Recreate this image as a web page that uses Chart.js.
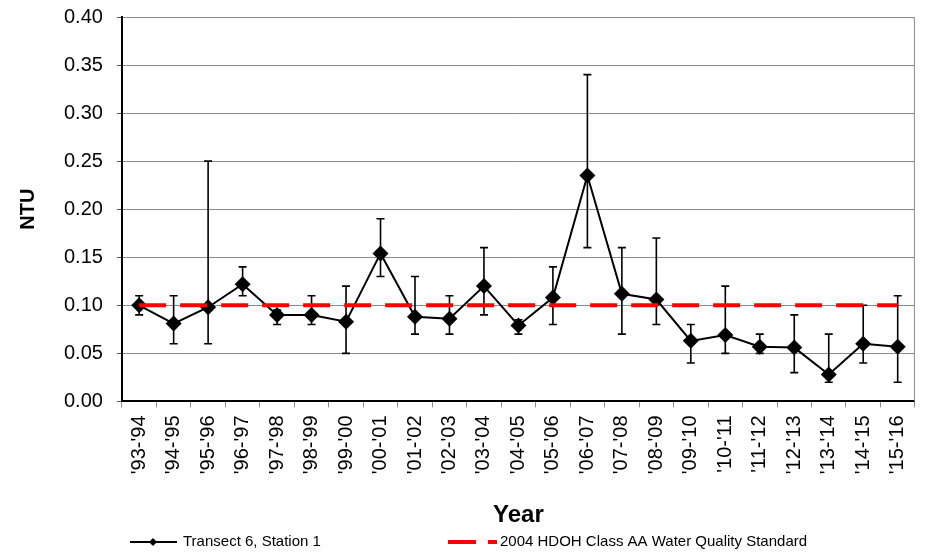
<!DOCTYPE html>
<html lang="en">
<head>
  <meta charset="UTF-8" />
  <title>NTU - Transect 6, Station 1</title>
  <script src="https://cdn.jsdelivr.net/npm/chart.js"></script>
  <style>
    body { margin: 0; background: #fff; }
    canvas { display: block; }
  </style>
</head>
<body>
  <canvas id="ntuChart" width="930" height="555"></canvas>

  <script>
    // values
    const years = ["'93-'94", "'94-'95", "'95-'96", "'96-'97", "'97-'98", "'98-'99", "'99-'00", "'00-'01",
      "'01-'02", "'02-'03", "'03-'04", "'04-'05", "'05-'06", "'06-'07", "'07-'08", "'08-'09",
      "'09-'10", "'10-'11", "'11-'12", "'12-'13", "'13-'14", "'14-'15", "'15-'16"];
    const ntu = [0.100, 0.081, 0.098, 0.122, 0.090, 0.090, 0.083, 0.154, 0.088, 0.086, 0.120, 0.079,
      0.108, 0.235, 0.112, 0.106, 0.063, 0.069, 0.057, 0.056, 0.028, 0.060, 0.057];
    const ntuHigh = [0.11, 0.11, 0.25, 0.14, 0.095, 0.11, 0.12, 0.19, 0.13, 0.11, 0.16, 0.085,
      0.14, 0.34, 0.16, 0.17, 0.08, 0.12, 0.07, 0.09, 0.07, 0.10, 0.11];
    const ntuLow = [0.09, 0.06, 0.06, 0.11, 0.08, 0.08, 0.05, 0.13, 0.07, 0.07, 0.09, 0.07,
      0.08, 0.16, 0.07, 0.08, 0.04, 0.05, 0.05, 0.03, 0.02, 0.04, 0.02];
    const standardValue = 0.10;
    const standard = years.map(() => standardValue);
    const yTicks = [0, 0.05, 0.10, 0.15, 0.20, 0.25, 0.30, 0.35, 0.40];

    const FONT = "'Liberation Sans', Arial, sans-serif";

    // error bars under the diamonds
    const errorBars = {
      id: 'errorBars',
      beforeDatasetsDraw(chart) {
        const ctx = chart.ctx;
        const x = chart.scales.x, y = chart.scales.y;
        ctx.save();
        ctx.strokeStyle = '#000';
        ctx.lineWidth = 1.6;
        ntu.forEach((v, i) => {
          const px = x.getPixelForValue(i);
          const top = y.getPixelForValue(ntuHigh[i]);
          const bot = y.getPixelForValue(ntuLow[i]);
          ctx.beginPath();
          ctx.moveTo(px, top); ctx.lineTo(px, bot);
          ctx.moveTo(px - 4, top); ctx.lineTo(px + 4, top);
          ctx.moveTo(px - 4, bot); ctx.lineTo(px + 4, bot);
          ctx.stroke();
        });
        ctx.restore();
      }
    };

    // right border + legend at the bottom
    const frameAndLegend = {
      id: 'frameAndLegend',
      afterDraw(chart) {
        const ctx = chart.ctx;
        const a = chart.chartArea;
        ctx.save();
        ctx.strokeStyle = '#8c8c8c';
        ctx.lineWidth = 1;
        ctx.beginPath();
        ctx.moveTo(a.right - 0.5, a.top);
        ctx.lineTo(a.right - 0.5, a.bottom);
        ctx.stroke();

        const ly = 542;
        ctx.strokeStyle = '#000';
        ctx.lineWidth = 2;
        ctx.beginPath();
        ctx.moveTo(130, ly); ctx.lineTo(177, ly);
        ctx.stroke();
        ctx.fillStyle = '#000';
        ctx.beginPath();
        ctx.moveTo(153, ly - 4); ctx.lineTo(157, ly); ctx.lineTo(153, ly + 4); ctx.lineTo(149, ly);
        ctx.closePath();
        ctx.fill();

        ctx.strokeStyle = '#ff0000';
        ctx.lineWidth = 4;
        ctx.beginPath();
        ctx.moveTo(448, ly); ctx.lineTo(476, ly);
        ctx.moveTo(488, ly); ctx.lineTo(497, ly);
        ctx.stroke();

        ctx.fillStyle = '#000';
        ctx.font = '15px ' + FONT;
        ctx.textBaseline = 'middle';
        ctx.textAlign = 'left';
        ctx.fillText('Transect 6, Station 1', 183, ly);
        ctx.fillText('2004 HDOH Class AA Water Quality Standard', 500, ly);
        ctx.restore();
      }
    };

    new Chart(document.getElementById('ntuChart'), {
      type: 'line',
      data: {
        labels: years,
        datasets: [{
          label: 'Transect 6, Station 1',
          data: ntu,
          borderColor: '#000',
          backgroundColor: '#000',
          borderWidth: 2,
          pointStyle: 'rectRot',
          pointRadius: 8,
          pointBorderWidth: 0,
          tension: 0,
          order: 1
        }, {
          label: '2004 HDOH Class AA Water Quality Standard',
          data: standard,
          borderColor: '#ff0000',
          borderWidth: 4,
          borderDash: [27, 14],
          pointRadius: 0,
          order: 0
        }]
      },
      options: {
        responsive: false,
        devicePixelRatio: 1,
        animation: false,
        layout: { padding: { top: 17, right: 14, bottom: 21, left: 4 } },
        plugins: {
          legend: { display: false },
          tooltip: { enabled: false }
        },
        scales: {
          x: {
            offset: true,
            grid: { offset: true, drawOnChartArea: false, tickLength: 6, color: '#8c8c8c' },
            border: { color: '#000', width: 2 },
            ticks: {
              color: '#000', font: { family: FONT, size: 20 },
              minRotation: 90, maxRotation: 90, padding: 8, autoSkip: false
            },
            title: {
              display: true, text: 'Year', color: '#000',
              font: { family: FONT, size: 24, weight: 'bold' },
              padding: { top: 19, bottom: 4 }
            }
          },
          y: {
            min: 0,
            max: 0.4,
            afterBuildTicks(scale) { scale.ticks = yTicks.map(v => ({ value: v })); },
            grid: { color: '#8c8c8c', tickLength: 5, tickColor: '#555' },
            border: { color: '#000', width: 2 },
            ticks: {
              color: '#000', font: { family: FONT, size: 20, lineHeight: 0.3 }, padding: 14,
              callback: v => v.toFixed(2)
            },
            title: {
              display: true, text: 'NTU', color: '#000',
              font: { family: FONT, size: 20, weight: 'bold' },
              padding: { top: 12, bottom: 10 }
            }
          }
        }
      },
      plugins: [errorBars, frameAndLegend]
    });
  </script>
</body>
</html>
